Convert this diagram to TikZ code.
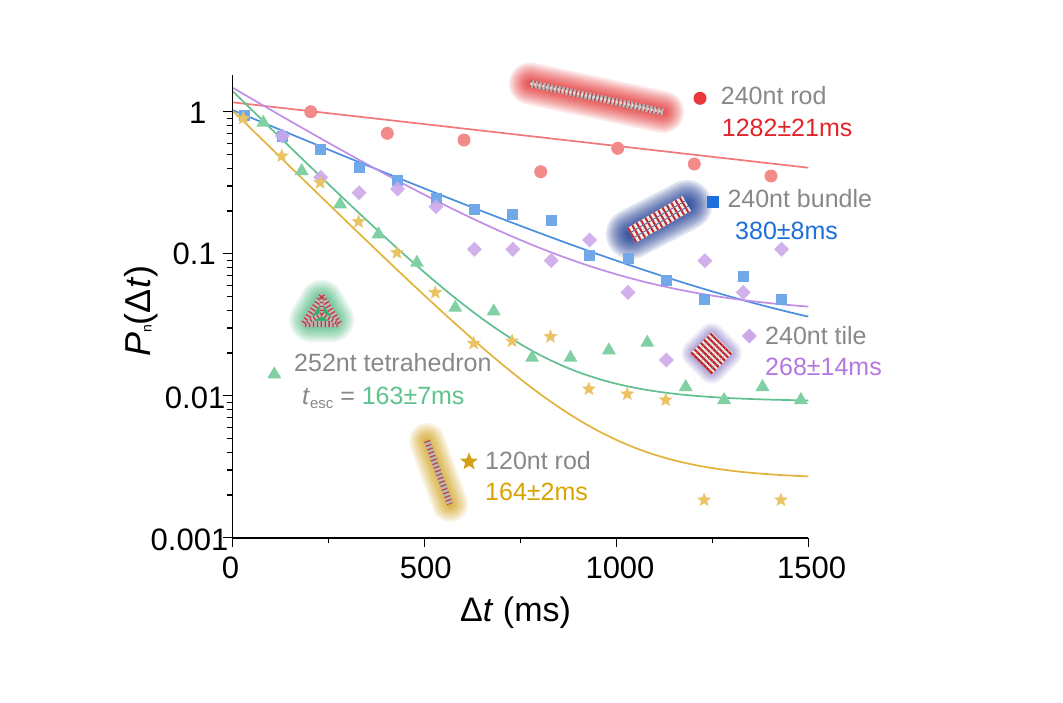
\documentclass[tikz,border=0pt]{standalone}
\usepackage{fontspec}
\setmainfont{Liberation Sans}
\newcommand\pxfont[1]{\fontsize{#1}{#1}\selectfont}
\definecolor{cRed}{HTML}{F28A8A}
\definecolor{cRedL}{HTML}{F07878}
\definecolor{cRedS}{HTML}{E8383C}
\definecolor{cRedT}{HTML}{E3242B}
\definecolor{cRedG}{HTML}{E62E2E}
\definecolor{cBlue}{HTML}{70A8E8}
\definecolor{cBlueL}{HTML}{4A8FE0}
\definecolor{cBlueS}{HTML}{1E6FD9}
\definecolor{cBlueG}{HTML}{1E3C94}
\definecolor{cPur}{HTML}{CDA8EA}
\definecolor{cPurL}{HTML}{C08EE6}
\definecolor{cPurT}{HTML}{B478E0}
\definecolor{cPurG}{HTML}{6E58B8}
\definecolor{cGrn}{HTML}{80D0A4}
\definecolor{cGrnL}{HTML}{60C090}
\definecolor{cGrnT}{HTML}{5DC48E}
\definecolor{cGrnG}{HTML}{2CAE68}
\definecolor{cYel}{HTML}{EAC464}
\definecolor{cYelL}{HTML}{E2B33C}
\definecolor{cYelS}{HTML}{D4A017}
\definecolor{cYelT}{HTML}{D9A400}
\definecolor{cYelG}{HTML}{D4A017}
\definecolor{cGray}{HTML}{888888}
\definecolor{cDna}{HTML}{B8B8B8}
\definecolor{cDnaR}{HTML}{C0282A}
\newcommand\glowline[5]{%
  \foreach \i in {0,...,15}{\draw[#1, opacity=#2, line cap=round, line width={#3*(1-\i/16)^1.5}] #4 -- #5;}}
\newcommand\glowpoly[4]{%
  \foreach \i in {0,...,15}{\filldraw[#1, opacity=#2, line join=round, line width={#3*(1-\i/16)^1.5}] #4;}}
% fitted curve: A*exp(-t/tau)+B, in pixel coordinates
\newcommand\fitcurve[4]{% style, A, B, tau
  \draw[fitline, #1] plot[domain=0:1500, samples=150] ({232.3+0.384*\x},{111.7-142*(log10(#3)+0.4342945*ln(1+exp(ln(#2/#3)-\x/#4)))});}
\tikzset{
  mcirc/.pic={\fill (0,0) circle (6.5);},
  msq/.pic={\fill (-5.5,-5.5) rectangle (5.5,5.5);},
  mdia/.pic={\fill (0,-7.5) -- (7.5,0) -- (0,7.5) -- (-7.5,0) -- cycle;},
  mtri/.pic={\fill (0,-7) -- (7,5) -- (-7,5) -- cycle;},
  mstar/.pic={\fill (-90:7.5) -- (-54:3.2) -- (-18:7.5) -- (18:3.2) -- (54:7.5) -- (90:3.2) -- (126:7.5) -- (162:3.2) -- (198:7.5) -- (234:3.2) -- cycle;},
  fitline/.style={line width=1.7},
  axisline/.style={line width=1.5, black},
  lbl/.style={font=\pxfont{25}, text=cGray, inner sep=0pt, anchor=base west},
  ticklbl/.style={font=\pxfont{31}, inner sep=0pt},
  dnabase/.style={line width=#1, cDna},
  dnared/.style={line width=#1, cDnaR, dash pattern=on 1.3pt off 2.6pt, opacity=0.8},
}
\begin{document}
\begin{tikzpicture}[x=1pt,y=-1pt]
\useasboundingbox (0,0) rectangle (1063,702);
\fill[white] (0,0) rectangle (1063,702);

% ---------- glows and structures ----------
% 240nt rod
\glowline{cRedG}{0.11}{42}{(530,83.5)}{(663,112)}
\draw[dnabase=7] (530,83.5) -- (663,112);
\draw[dnared=7] (530,83.5) -- (663,112);
\draw[line width=2.5, white, dash pattern=on 2pt off 2pt, opacity=0.6] (530,83.5) -- (663,112);
% 240nt bundle
\glowline{cBlueG}{0.14}{50}{(631,234)}{(687,205)}
\begin{scope}[shift={(659,219.5)}, rotate=30]
  \foreach \k in {-6,0,6}{
    \draw[line width=5, white!85!gray] (-32,\k) -- (32,\k);
    \draw[line width=5, cDnaR, dash pattern=on 2pt off 3pt] (-32,\k) -- (32,\k);}
\end{scope}
% 240nt tile
\glowpoly{cPurG}{0.07}{28}{(711.7,337) -- (728,353.3) -- (711.7,369.6) -- (695.4,353.3) -- cycle}
\begin{scope}[shift={(711.7,353.3)}, rotate=45]
  \foreach \k in {-13,-8.7,...,14}{
    \draw[line width=4, white!85!gray] (-15,\k) -- (15,\k);
    \draw[line width=4, cDnaR, dash pattern=on 2.2pt off 2.3pt] (-15,\k) -- (15,\k);}
\end{scope}
% 252nt tetrahedron
\glowpoly{cGrnG}{0.1}{44}{(321.7,302) -- (332,320) -- (311.4,320) -- cycle}
\draw[line width=6, cDna, line join=round] (321.7,296) -- (339.5,324) -- (303.5,324) -- cycle;
\draw[line width=6, cDnaR, dash pattern=on 1.3pt off 2.6pt, opacity=0.85, line join=round] (321.7,296) -- (339.5,324) -- (303.5,324) -- cycle;
\draw[line width=4, cDna] (321.7,298) -- (321.7,314) (321.7,314) -- (306,323) (321.7,314) -- (337,323);
\draw[line width=4, cDnaR, dash pattern=on 1.3pt off 2.6pt, opacity=0.8] (321.7,298) -- (321.7,314) (321.7,314) -- (306,323) (321.7,314) -- (337,323);
% 120nt rod
\glowline{cYelG}{0.1}{36}{(427,441)}{(450,504)}
\draw[dnabase=6] (427,441) -- (450,504);
\draw[dnared=6] (427,441) -- (450,504);

% ---------- fitted curves ----------
\draw[fitline, cRedL] (232.3,102.3) -- (808.3,167.7);
\fitcurve{cBlueL}{0.99}{0.0161}{380}
\fitcurve{cPurL}{1.425}{0.0366}{268}
\fitcurve{cGrnL}{1.375}{0.009}{163}
\fitcurve{cYelL}{1.014}{0.00258}{164}

% ---------- data markers ----------
\begin{scope}
\clip (232.3,40) rectangle (900,538);
\foreach \px/\py in {310.7/111.7,387.3/133.3,464/140,540.7/171.7,617.7/148.3,694.3/164,771/176}
  \pic[cRed] at (\px,\py) {mcirc};
\foreach \py [count=\k from 0] in {115,136,149,167.7,180.7,198.3,209,214,220,255.7,258.3,280.7,299,276.7,299}
  \pic[cBlue] at ({244+38.4*\k},\py) {msq};
\foreach \py [count=\k from 1] in {136,177.3,192.7,189,206.7,249.3,249.3,260.7,240,292.3,360,260.7,292.3,249.3}
  \pic[cPur, opacity=0.9] at ({244+38.4*\k},\py) {mdia};
\foreach \py [count=\k from 0] in {121.7,170,203.3,233.3,261.7,306.7,310.3,356.7,356.7,349.3,341.7,386,399,386,399}
  \pic[cGrn] at ({263.3+38.4*\k},\py) {mtri};
\foreach \py [count=\k from 0] in {118.3,156,182.7,221.7,252.7,292.5,343.3,341,336.7,389,394,400,500,544,500}
  \pic[cYel] at ({243.3+38.4*\k},\py) {mstar};
\end{scope}

% ---------- axes ----------
\draw[axisline] (232.3,75) -- (232.3,538) -- (808.3,538);
\foreach \v in {111.7,253.7,395.7,537.7}
  \draw[axisline] (232.3,\v) -- (223,\v);
\foreach \j in {1,2,3}{
  \foreach \m in {2,...,9}{
    \draw[line width=1.2] (232.3,{111.7+142*\j-142*log10(\m)}) -- ++(-5,0);}}
\foreach \t in {0,500,1000,1500}
  \draw[axisline] ({232.3+0.384*\t},538) -- ++(0,8.5);
\foreach \t in {250,750,1250}
  \draw[line width=1.2] ({232.3+0.384*\t},538) -- ++(0,5);

% ---------- tick labels ----------
\node[ticklbl, anchor=base east] (y1) at (206.5,123.3) {1};
\node[ticklbl, anchor=base east] (y2) at (216,264) {0.1};
\node[ticklbl, anchor=base east] (y3) at (225.5,408.3) {0.01};
\node[ticklbl, anchor=base east] (y4) at (228.5,550) {0.001};
\node[ticklbl, anchor=base] (x1) at (230.5,578.3) {0};
\node[ticklbl, anchor=base] (x2) at (425.8,578.3) {500};
\node[ticklbl, anchor=base] (x3) at (620,578.3) {1000};
\node[ticklbl, anchor=base] (x4) at (811.7,578.3) {1500};

% ---------- axis titles ----------
\node[font=\pxfont{34}, inner sep=0pt, anchor=base west] (xlab) at (460,621) {Δ\textit{t} (ms)};
\node[font=\pxfont{36}, inner sep=0pt, anchor=base west, rotate=90] (ylab) at (150,357) {\textit{P}\raisebox{-1.5pt}{\pxfont{14}n}(Δ\textit{t})};

% ---------- legend ----------
\pic[cRedS] at (700,98.3) {mcirc};
\node[lbl] (rodA) at (720.7,104.3) {240nt rod};
\node[lbl, text=cRedT] (rodB) at (721.7,136) {1282±21ms};
\pic[cBlueS, scale=1.1] at (713.3,201.7) {msq};
\node[lbl] (bunA) at (727.3,207.3) {240nt bundle};
\node[lbl, text=cBlueS] (bunB) at (735,239.3) {380±8ms};
\pic[cPur] at (749.3,336) {mdia};
\node[lbl] (tilA) at (765,344.3) {240nt tile};
\node[lbl, text=cPurT] (tilB) at (765,375.7) {268±14ms};
\pic[cGrn] at (274.3,373.3) {mtri};
\node[lbl] (tetA) at (294,371.7) {252nt tetrahedron};
\node[lbl] (tetB) at (302,404) {\textit{t}\raisebox{-4.5pt}{\pxfont{15}esc} = \textcolor{cGrnT}{163±7ms}};
\pic[cYelS, scale=1.25] at (469,461.7) {mstar};
\node[lbl] (smA) at (485,469.3) {120nt rod};
\node[lbl, text=cYelT] (smB) at (485,500) {164±2ms};
\end{tikzpicture}
\end{document}
